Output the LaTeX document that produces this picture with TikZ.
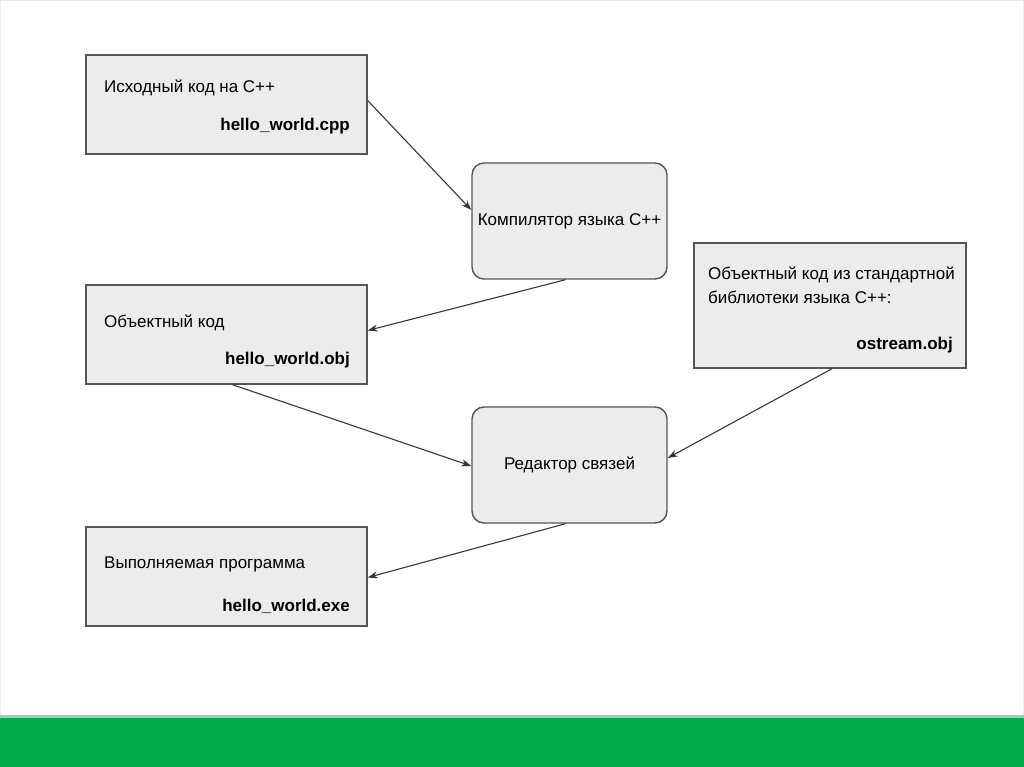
\documentclass[tikz,border=0pt]{standalone}
\usepackage{fontspec}
\setmainfont{Liberation Sans}
\usepackage{tikz}
\usetikzlibrary{arrows.meta,positioning,calc}
\definecolor{slidegreen}{RGB}{0,173,77}
\definecolor{boxfill}{RGB}{236,236,236}
\definecolor{boxline}{RGB}{85,85,85}
\definecolor{arrline}{RGB}{55,55,55}
\tikzset{
  filebox/.style={draw=boxline, fill=boxfill, line width=1.4pt,
                  minimum width=281pt, minimum height=99pt, inner sep=0pt},
  toolbox/.style={draw=boxline, fill=boxfill, line width=1.4pt, rounded corners=12pt,
                  minimum width=195pt, minimum height=116pt, inner sep=0pt,
                  font=\fontsize{17}{20}\selectfont},
  lbl/.style={font=\fontsize{17}{20}\selectfont, inner sep=0pt},
  fname/.style={font=\fontsize{17}{20}\selectfont\bfseries, inner sep=0pt},
  flowarr/.style={-{Stealth[length=10pt,width=7pt]}, arrline, line width=1.1pt},
}
\begin{document}
\begin{tikzpicture}[x=1pt,y=-1pt]
\useasboundingbox (0,0) rectangle (1024,767);
\fill[white] (0,0) rectangle (1024,767);
\draw[gray!15, line width=1pt] (0.5,0.5) rectangle (1023.5,716);
%---------------- bottom band ----------------
\fill[slidegreen!45] (0,715) rectangle (1024,719);
\fill[slidegreen] (0,718) rectangle (1024,767);
%---------------- file boxes ----------------
\node[filebox] (src) at (226.5,104.5) {};
\node[lbl, anchor=base west] (src-lbl) at (104,93) {Исходный код на С++};
\node[fname, anchor=base east] (src-fn) at (350,131) {hello\_world.cpp};

\node[filebox] (obj) at (226.5,334.5) {};
\node[lbl, anchor=base west] (obj-lbl) at (104,327) {Объектный код};
\node[fname, anchor=base east] (obj-fn) at (350,364) {hello\_world.obj};

\node[filebox] (exe) at (226.5,576.5) {};
\node[lbl, anchor=base west] (exe-lbl) at (104,568) {Выполняемая программа};
\node[fname, anchor=base east] (exe-fn) at (350,611) {hello\_world.exe};

\node[filebox, minimum width=272pt, minimum height=125pt] (lib) at (830,305.5) {};
\node[lbl, anchor=base west] (lib-lbl1) at (708,279) {Объектный код из стандартной};
\node[lbl, anchor=base west] (lib-lbl2) at (708,303) {библиотеки языка С++:};
\node[fname, anchor=base east] (lib-fn) at (953,349) {ostream.obj};
%---------------- tools ----------------
\node[toolbox] (comp) at (569.5,221) {Компилятор языка С++};
\node[toolbox] (link) at (569.5,465) {Редактор связей};
%---------------- flow ----------------
\draw[flowarr] ([yshift=4pt]src.east) -- ([yshift=11pt]comp.west);
\draw[flowarr] ([xshift=-4pt]comp.south) -- ([yshift=4pt]obj.east);
\draw[flowarr] ([xshift=6pt]obj.south) -- ([yshift=-1pt]link.west);
\draw[flowarr] ([xshift=2pt]lib.south) -- ([yshift=7pt]link.east);
\draw[flowarr] ([xshift=-4pt]link.south) -- ([yshift=-1pt]exe.east);
\end{tikzpicture}
\end{document}
